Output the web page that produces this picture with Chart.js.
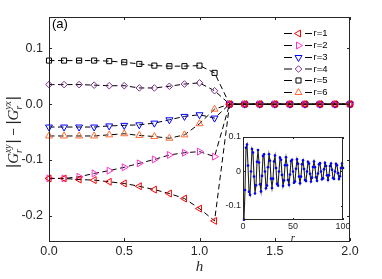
<!DOCTYPE html>
<html><head><meta charset="utf-8">
<script src="https://cdn.jsdelivr.net/npm/chart.js@4/dist/chart.umd.min.js"></script>
<style>
html,body{margin:0;padding:0;background:#fff;}
#wrap{position:relative;width:382px;height:279px;overflow:hidden;}
#main{position:absolute;left:0;top:0;}
#inset{position:absolute;left:218px;top:127px;}
</style></head><body>
<div id="wrap"><canvas id="main" width="382" height="279"></canvas><canvas id="inset" width="134" height="118"></canvas></div>
<script>
// ---------- data ----------
const hValues = [0,0.1,0.2,0.3,0.4,0.5,0.6,0.7,0.8,0.9,1.0,1.1,1.2,1.3,1.4,1.5,1.6,1.7,1.8,1.9,2.0];
const seriesNames = ['r=1','r=2','r=3','r=4','r=5','r=6'];
const r1Values = [-0.133,-0.133,-0.135,-0.136,-0.139,-0.142,-0.147,-0.153,-0.160,-0.169,-0.187,-0.209,0,0,0,0,0,0,0,0,0];
const r2Values = [-0.133,-0.133,-0.130,-0.124,-0.119,-0.113,-0.106,-0.099,-0.091,-0.087,-0.085,-0.094,0,0,0,0,0,0,0,0,0];
const r3Values = [-0.041,-0.041,-0.041,-0.041,-0.039,-0.038,-0.037,-0.034,-0.028,-0.022,-0.019,-0.025,0,0,0,0,0,0,0,0,0];
const r4Values = [0.035,0.035,0.035,0.034,0.033,0.033,0.029,0.029,0.032,0.036,0.038,0.024,0,0,0,0,0,0,0,0,0];
const r5Values = [0.078,0.078,0.078,0.078,0.077,0.075,0.072,0.069,0.068,0.068,0.069,0.056,0,0,0,0,0,0,0,0,0];
const r6Values = [-0.057,-0.057,-0.057,-0.057,-0.055,-0.053,-0.056,-0.058,-0.061,-0.055,-0.035,-0.009,0,0,0,0,0,0,0,0,0];
const xTickValues = [0,0.5,1,1.5,2];
const xTickLabels = ['0.0','0.5','1.0','1.5','2.0'];
const yTickValues = [-0.2,-0.1,0,0.1];
const yTickLabels = ['-0.2','-0.1','0.0','0.1'];

const insetR = [1,2,3,4,5,6,7,8,9,10,11,12,13,14,15,16,17,18,19,20,21,22,23,24,25,26,27,28,29,30,31,32,33,34,35,36,37,38,39,40,41,42,43,44,45,46,47,48,49,50,51,52,53,54,55,56,57,58,59,60,61,62,63,64,65,66,67,68,69,70,71,72,73,74,75,76,77,78,79,80,81,82,83,84,85,86,87,88,89,90,91,92,93,94,95,96,97,98,99,100];
const insetValues = [-0.140,-0.054,0.069,0.078,0.017,-0.059,-0.068,0.000,0.065,0.055,-0.015,-0.064,-0.040,0.028,0.062,0.026,-0.037,-0.058,-0.013,0.045,0.050,0.000,-0.049,-0.041,0.012,0.050,0.031,-0.021,-0.048,-0.021,0.029,0.046,0.010,-0.036,-0.041,0.000,0.040,0.034,-0.010,-0.042,-0.026,0.018,0.041,0.018,-0.025,-0.039,-0.009,0.030,0.034,0.000,-0.033,-0.029,0.008,0.035,0.022,-0.015,-0.034,-0.015,0.021,0.032,0.007,-0.025,-0.028,0.000,0.028,0.023,-0.007,-0.029,-0.018,0.013,0.029,0.012,-0.017,-0.027,-0.006,0.021,0.024,0.000,-0.023,-0.020,0.006,0.025,0.016,-0.011,-0.025,-0.011,0.016,0.023,0.005,-0.019,-0.022,0.000,0.022,0.018,-0.005,-0.022,-0.014,0.010,0.023,0.010];
const insetXTicks = [0,50,100];
const insetXLabels = ['0','50','100'];
const insetYTicks = [-0.1,0,0.1];
const insetYLabels = ['-0.1','0','0.1'];

// ---------- styles ----------
const seriesStyles = [
  {color:'#ff0000', style:'triangle', rot:-90, r:4},
  {color:'#ff33cc', style:'triangle', rot:90, r:4},
  {color:'#0000ff', style:'triangle', rot:180, r:4},
  {color:'#7e2f8e', style:'rectRot', rot:0, r:3.3},
  {color:'#000000', style:'rect', rot:0, r:3.6},
  {color:'#ff6a33', style:'triangle', rot:0, r:4}
];
const seriesValues = [r1Values,r2Values,r3Values,r4Values,r5Values,r6Values];
const AX = '#262626';
const SANS = '"Liberation Sans", Arial, sans-serif';
const SERIF = '"Liberation Serif", "Times New Roman", serif';

function drawMarker(ctx, st, x, y){
  ctx.save();
  ctx.strokeStyle = st.color; ctx.lineWidth = 1; ctx.beginPath();
  const r = st.r;
  if (st.style==='triangle'){
    let a = st.rot*Math.PI/180;
    for(let k=0;k<3;k++){ const px=x+Math.sin(a)*r, py=y-Math.cos(a)*r; if(k===0)ctx.moveTo(px,py); else ctx.lineTo(px,py); a+=2*Math.PI/3; }
    ctx.closePath();
  } else if (st.style==='rectRot'){
    ctx.moveTo(x-r,y); ctx.lineTo(x,y-r); ctx.lineTo(x+r,y); ctx.lineTo(x,y+r); ctx.closePath();
  } else { const s=Math.SQRT1_2*r; ctx.rect(x-s,y-s,2*s,2*s); }
  ctx.stroke(); ctx.restore();
}

const mainDecor = {
  id:'mainDecor',
  afterDraw(chart){
    const {ctx, chartArea:a, scales:{x,y}} = chart;
    ctx.save();
    ctx.strokeStyle = AX; ctx.lineWidth = 1;
    ctx.strokeRect(a.left+0.5, a.top+0.5, a.right-a.left-1, a.bottom-a.top);
    ctx.beginPath();
    xTickValues.forEach(v=>{ const p=Math.round(x.getPixelForValue(v))+0.5; ctx.moveTo(p,a.bottom); ctx.lineTo(p,a.bottom-3); ctx.moveTo(p,a.top); ctx.lineTo(p,a.top+3); });
    yTickValues.forEach(v=>{ const p=Math.round(y.getPixelForValue(v))+0.5; ctx.moveTo(a.left,p); ctx.lineTo(a.left+3,p); ctx.moveTo(a.right,p); ctx.lineTo(a.right-3,p); });
    ctx.stroke();
    // (a)
    ctx.fillStyle = '#000'; ctx.font = '13px '+SANS; ctx.textBaseline='alphabetic'; ctx.textAlign='left';
    ctx.fillText('(a)', a.left+3, a.top+11);
    // x label
    ctx.fillStyle = AX; ctx.font = 'italic 15px '+SERIF; ctx.textAlign='center';
    ctx.fillText('h', x.getPixelForValue(1), 271);
    // legend
    const ly = [33,45,57,68.5,80,92];
    seriesNames.forEach((nm,i)=>{
      ctx.strokeStyle='#000'; ctx.lineWidth=1; ctx.beginPath();
      ctx.moveTo(284,ly[i]+0.5); ctx.lineTo(292,ly[i]+0.5); ctx.moveTo(305,ly[i]+0.5); ctx.lineTo(312,ly[i]+0.5); ctx.stroke();
      drawMarker(ctx, seriesStyles[i], 298.5, ly[i]+0.5);
      ctx.fillStyle='#000'; ctx.font='9.5px '+SANS; ctx.textAlign='left'; ctx.textBaseline='middle';
      ctx.fillText(nm, 313.5, ly[i]+0.5);
    });
    // y label
    ctx.translate(13, 132); ctx.rotate(-Math.PI/2);
    ctx.textBaseline='alphabetic'; ctx.textAlign='left'; ctx.fillStyle=AX;
    const bar='16px '+SANS, big='italic 15px '+SERIF, small='italic 9.5px '+SERIF, mf='13px '+SANS;
    const parts=[{t:'|',f:bar},{t:'G',f:big},{sub:'r',sup:'xy'},{t:'|',f:bar},{t:' \u2212 ',f:mf},{t:'|',f:bar},{t:'G',f:big},{sub:'r',sup:'yx'},{t:'|',f:bar}];
    let total=0;
    parts.forEach(p=>{ if(p.t){ctx.font=p.f; p.w=ctx.measureText(p.t).width;} else {ctx.font=small; p.w=Math.max(ctx.measureText(p.sub).width, ctx.measureText(p.sup).width)+1;} total+=p.w; });
    let cx=-total/2;
    parts.forEach(p=>{
      if(p.t){ctx.font=p.f; ctx.fillText(p.t,cx,5);} else {ctx.font=small; ctx.fillText(p.sub,cx,8.5); ctx.fillText(p.sup,cx,-2.5);} cx+=p.w; });
    ctx.restore();
  }
};

const mainChart = new Chart(document.getElementById('main'), {
  type:'line',
  data:{ datasets: seriesValues.map((vals,i)=>({
    label: seriesNames[i],
    data: hValues.map((h,j)=>({x:h, y:vals[j]})),
    borderColor:'#000', borderWidth:1, borderDash:[5.5,3.5],
    pointStyle: seriesStyles[i].style, pointRotation: seriesStyles[i].rot, pointRadius: seriesStyles[i].r,
    pointBorderColor: seriesStyles[i].color, pointBackgroundColor:'rgba(0,0,0,0)', pointBorderWidth:1,
    pointHoverRadius: seriesStyles[i].r, tension:0, fill:false, clip:false
  }))},
  options:{
    responsive:false, animation:false, devicePixelRatio:1,
    layout:{padding:{left:0, top:17, right:32, bottom:0}},
    plugins:{legend:{display:false}, tooltip:{enabled:false}},
    scales:{
      x:{type:'linear', min:0, max:2,
        afterBuildTicks:s=>{s.ticks=xTickValues.map(v=>({value:v}));},
        afterFit:s=>{s.height=38;},
        ticks:{autoSkip:false, maxRotation:0, padding:3, color:AX, font:{family:SANS, size:12.5}, callback:(v,i)=>xTickLabels[i]},
        grid:{display:false, drawTicks:false}, border:{display:false}},
      y:{type:'linear', min:-0.245, max:0.156,
        afterBuildTicks:s=>{s.ticks=yTickValues.map(v=>({value:v}));},
        afterFit:s=>{s.width=49;},
        ticks:{autoSkip:false, padding:6, color:AX, font:{family:SANS, size:12.5}, callback:(v,i)=>yTickLabels[i]},
        grid:{display:false, drawTicks:false}, border:{display:false}}
    }
  },
  plugins:[mainDecor]
});

const insetDecor = {
  id:'insetDecor',
  beforeDraw(chart){
    const {ctx, chartArea:a} = chart;
    ctx.save(); ctx.fillStyle='#fff'; ctx.fillRect(a.left, a.top, a.right-a.left, a.bottom-a.top); ctx.restore();
  },
  afterDraw(chart){
    const {ctx, chartArea:a, scales:{x,y}} = chart;
    ctx.save(); ctx.strokeStyle=AX; ctx.lineWidth=1;
    ctx.strokeRect(a.left+0.5, a.top+0.5, a.right-a.left-1, a.bottom-a.top-1);
    ctx.beginPath();
    insetXTicks.forEach(v=>{const p=Math.round(x.getPixelForValue(v))+0.5; ctx.moveTo(p,a.bottom); ctx.lineTo(p,a.bottom-2); ctx.moveTo(p,a.top); ctx.lineTo(p,a.top+2);});
    insetYTicks.forEach(v=>{const p=Math.round(y.getPixelForValue(v))+0.5; ctx.moveTo(a.left,p); ctx.lineTo(a.left+2,p); ctx.moveTo(a.right,p); ctx.lineTo(a.right-2,p);});
    ctx.stroke();
    ctx.fillStyle=AX; ctx.font='italic 11px '+SERIF; ctx.textAlign='center'; ctx.textBaseline='alphabetic';
    ctx.fillText('r', x.getPixelForValue(50), 114);
    ctx.restore();
  }
};

const insetChart = new Chart(document.getElementById('inset'), {
  type:'line',
  data:{ datasets:[{
    data: insetR.map((r,j)=>({x:r, y:insetValues[j]})),
    borderColor:'#222', borderWidth:1.1, pointRadius:1.3, pointBackgroundColor:'#0000ff', pointBorderColor:'#0000ff', pointBorderWidth:0,
    tension:0, fill:false, clip:false
  }]},
  options:{
    responsive:false, animation:false, devicePixelRatio:1,
    layout:{padding:{left:0, top:10, right:9, bottom:0}},
    plugins:{legend:{display:false}, tooltip:{enabled:false}},
    scales:{
      x:{type:'linear', min:0, max:100,
        afterBuildTicks:s=>{s.ticks=insetXTicks.map(v=>({value:v}));},
        afterFit:s=>{s.height=25;},
        ticks:{autoSkip:false, maxRotation:0, padding:1, color:AX, font:{family:SANS, size:9}, callback:(v,i)=>insetXLabels[i]},
        grid:{display:false, drawTicks:false}, border:{display:false}},
      y:{type:'linear', min:-0.141, max:0.1,
        afterBuildTicks:s=>{s.ticks=insetYTicks.map(v=>({value:v}));},
        afterFit:s=>{s.width=25;},
        ticks:{autoSkip:false, padding:2, color:AX, font:{family:SANS, size:9}, callback:(v,i)=>insetYLabels[i]},
        grid:{display:false, drawTicks:false}, border:{display:false}}
    }
  },
  plugins:[insetDecor]
});
</script>
</body></html>
